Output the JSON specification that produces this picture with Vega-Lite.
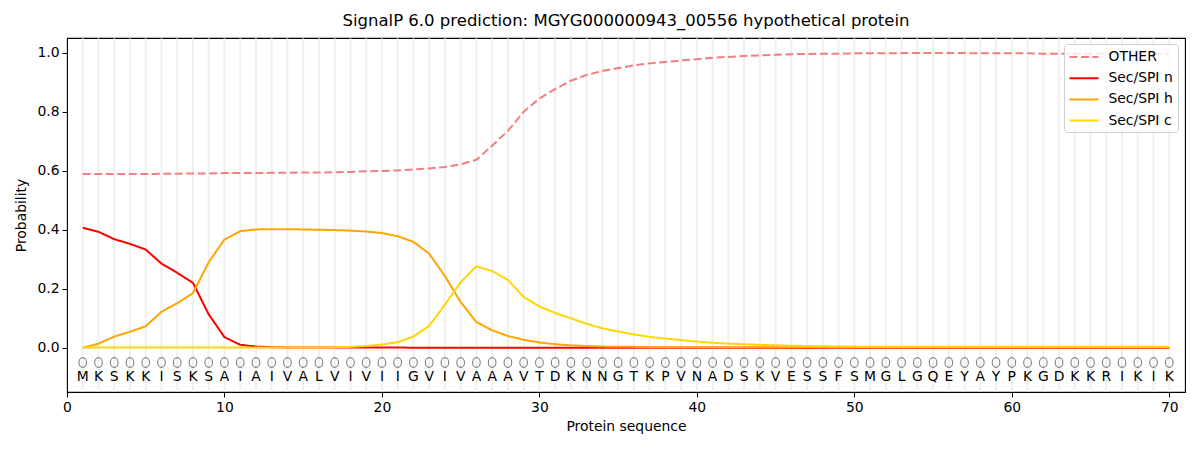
{
  "$schema": "https://vega.github.io/schema/vega-lite/v6.json",
  "width": 1118,
  "height": 354,
  "autosize": {"type": "none"},
  "padding": {"left": 67, "top": 38, "right": 15, "bottom": 58},
  "title": {"text": "SignalP 6.0 prediction: MGYG000000943_00556 hypothetical protein", "fontSize": 16.5, "fontWeight": "normal", "font": "DejaVu Sans", "color": "black", "offset": 8, "anchor": "middle"},
  "datasets": {
    "residues": [
      {"pos":1,"aa":"M","other":0.589,"n":0.407,"h":0.000,"c":0.001},
      {"pos":2,"aa":"K","other":0.589,"n":0.393,"h":0.014,"c":0.001},
      {"pos":3,"aa":"S","other":0.589,"n":0.368,"h":0.038,"c":0.001},
      {"pos":4,"aa":"K","other":0.589,"n":0.352,"h":0.054,"c":0.001},
      {"pos":5,"aa":"K","other":0.589,"n":0.333,"h":0.073,"c":0.001},
      {"pos":6,"aa":"I","other":0.590,"n":0.285,"h":0.122,"c":0.001},
      {"pos":7,"aa":"S","other":0.590,"n":0.254,"h":0.151,"c":0.001},
      {"pos":8,"aa":"K","other":0.591,"n":0.220,"h":0.185,"c":0.001},
      {"pos":9,"aa":"S","other":0.591,"n":0.113,"h":0.290,"c":0.001},
      {"pos":10,"aa":"A","other":0.592,"n":0.036,"h":0.367,"c":0.001},
      {"pos":11,"aa":"I","other":0.592,"n":0.010,"h":0.395,"c":0.001},
      {"pos":12,"aa":"A","other":0.592,"n":0.004,"h":0.401,"c":0.001},
      {"pos":13,"aa":"I","other":0.593,"n":0.002,"h":0.402,"c":0.001},
      {"pos":14,"aa":"V","other":0.593,"n":0.001,"h":0.402,"c":0.001},
      {"pos":15,"aa":"A","other":0.594,"n":0.001,"h":0.401,"c":0.001},
      {"pos":16,"aa":"L","other":0.594,"n":0.001,"h":0.400,"c":0.001},
      {"pos":17,"aa":"V","other":0.595,"n":0.001,"h":0.399,"c":0.002},
      {"pos":18,"aa":"I","other":0.596,"n":0.001,"h":0.397,"c":0.003},
      {"pos":19,"aa":"V","other":0.598,"n":0.001,"h":0.394,"c":0.006},
      {"pos":20,"aa":"I","other":0.599,"n":0.001,"h":0.389,"c":0.011},
      {"pos":21,"aa":"I","other":0.601,"n":0.001,"h":0.378,"c":0.019},
      {"pos":22,"aa":"G","other":0.604,"n":0.000,"h":0.359,"c":0.038},
      {"pos":23,"aa":"V","other":0.608,"n":0.000,"h":0.319,"c":0.074},
      {"pos":24,"aa":"I","other":0.613,"n":0.000,"h":0.243,"c":0.146},
      {"pos":25,"aa":"V","other":0.622,"n":0.000,"h":0.155,"c":0.222},
      {"pos":26,"aa":"A","other":0.637,"n":0.000,"h":0.087,"c":0.276},
      {"pos":27,"aa":"A","other":0.685,"n":0.000,"h":0.059,"c":0.260},
      {"pos":28,"aa":"A","other":0.735,"n":0.000,"h":0.040,"c":0.230},
      {"pos":29,"aa":"V","other":0.800,"n":0.000,"h":0.027,"c":0.172},
      {"pos":30,"aa":"T","other":0.845,"n":0.000,"h":0.018,"c":0.140},
      {"pos":31,"aa":"D","other":0.877,"n":0.000,"h":0.012,"c":0.118},
      {"pos":32,"aa":"K","other":0.905,"n":0.000,"h":0.008,"c":0.100},
      {"pos":33,"aa":"N","other":0.925,"n":0.000,"h":0.006,"c":0.081},
      {"pos":34,"aa":"N","other":0.938,"n":0.000,"h":0.004,"c":0.066},
      {"pos":35,"aa":"G","other":0.948,"n":0.000,"h":0.003,"c":0.055},
      {"pos":36,"aa":"T","other":0.957,"n":0.000,"h":0.003,"c":0.045},
      {"pos":37,"aa":"K","other":0.964,"n":0.000,"h":0.002,"c":0.037},
      {"pos":38,"aa":"P","other":0.969,"n":0.000,"h":0.002,"c":0.031},
      {"pos":39,"aa":"V","other":0.974,"n":0.000,"h":0.002,"c":0.026},
      {"pos":40,"aa":"N","other":0.978,"n":0.000,"h":0.002,"c":0.021},
      {"pos":41,"aa":"A","other":0.983,"n":0.000,"h":0.002,"c":0.017},
      {"pos":42,"aa":"D","other":0.986,"n":0.000,"h":0.002,"c":0.014},
      {"pos":43,"aa":"S","other":0.989,"n":0.000,"h":0.002,"c":0.012},
      {"pos":44,"aa":"K","other":0.991,"n":0.000,"h":0.002,"c":0.010},
      {"pos":45,"aa":"V","other":0.993,"n":0.000,"h":0.002,"c":0.008},
      {"pos":46,"aa":"E","other":0.995,"n":0.000,"h":0.002,"c":0.007},
      {"pos":47,"aa":"S","other":0.996,"n":0.000,"h":0.002,"c":0.006},
      {"pos":48,"aa":"S","other":0.997,"n":0.000,"h":0.002,"c":0.005},
      {"pos":49,"aa":"F","other":0.997,"n":0.000,"h":0.002,"c":0.004},
      {"pos":50,"aa":"S","other":0.998,"n":0.000,"h":0.002,"c":0.004},
      {"pos":51,"aa":"M","other":0.998,"n":0.000,"h":0.002,"c":0.003},
      {"pos":52,"aa":"G","other":0.998,"n":0.000,"h":0.002,"c":0.003},
      {"pos":53,"aa":"L","other":0.999,"n":0.000,"h":0.002,"c":0.003},
      {"pos":54,"aa":"G","other":0.999,"n":0.000,"h":0.002,"c":0.003},
      {"pos":55,"aa":"Q","other":0.999,"n":0.000,"h":0.002,"c":0.003},
      {"pos":56,"aa":"E","other":0.999,"n":0.000,"h":0.002,"c":0.003},
      {"pos":57,"aa":"Y","other":0.999,"n":0.000,"h":0.002,"c":0.003},
      {"pos":58,"aa":"A","other":0.998,"n":0.000,"h":0.002,"c":0.003},
      {"pos":59,"aa":"Y","other":0.998,"n":0.000,"h":0.002,"c":0.003},
      {"pos":60,"aa":"P","other":0.998,"n":0.000,"h":0.002,"c":0.003},
      {"pos":61,"aa":"K","other":0.998,"n":0.000,"h":0.002,"c":0.003},
      {"pos":62,"aa":"G","other":0.997,"n":0.000,"h":0.002,"c":0.003},
      {"pos":63,"aa":"D","other":0.997,"n":0.000,"h":0.002,"c":0.003},
      {"pos":64,"aa":"K","other":0.997,"n":0.000,"h":0.002,"c":0.003},
      {"pos":65,"aa":"K","other":0.997,"n":0.000,"h":0.002,"c":0.003},
      {"pos":66,"aa":"R","other":0.997,"n":0.000,"h":0.002,"c":0.003},
      {"pos":67,"aa":"I","other":0.997,"n":0.000,"h":0.002,"c":0.003},
      {"pos":68,"aa":"K","other":0.997,"n":0.000,"h":0.002,"c":0.003},
      {"pos":69,"aa":"I","other":0.997,"n":0.000,"h":0.002,"c":0.003},
      {"pos":70,"aa":"K","other":0.997,"n":0.000,"h":0.002,"c":0.003}
    ]
  },
  "data": {"name": "residues"},
  "encoding": {
    "x": {"field": "pos", "type": "quantitative", "scale": {"domain": [0, 71], "nice": false, "zero": false},
      "axis": {"title": "Protein sequence", "values": [0,10,20,30,40,50,60,70], "format": "d", "grid": false}}
  },
  "layer": [
    {
      "mark": {"type": "rule", "color": "#e6e6e6", "strokeWidth": 2, "opacity": 0.6},
      "encoding": {}
    },
    {
      "mark": {"type": "point", "shape": "M0,-1A0.78,1 0 1,1 0,1A0.78,1 0 1,1 0,-1Z", "filled": false, "stroke": "#808080", "strokeWidth": 1.1, "size": 96, "opacity": 1},
      "encoding": {"y": {"datum": -0.05, "type": "quantitative"}}
    },
    {
      "mark": {"type": "text", "fontSize": 13.9, "color": "black", "baseline": "middle", "align": "center", "font": "DejaVu Sans"},
      "encoding": {"y": {"datum": -0.1, "type": "quantitative"}, "text": {"field": "aa"}}
    },
    {
      "transform": [{"fold": ["other", "n", "h", "c"], "as": ["series", "prob"]}],
      "mark": {"type": "line", "strokeWidth": 2},
      "encoding": {
        "y": {"field": "prob", "type": "quantitative", "scale": {"domain": [-0.15, 1.05], "nice": false, "zero": false},
          "axis": {"title": "Probability", "values": [0,0.2,0.4,0.6,0.8,1.0], "format": ".1f", "grid": false}},
        "color": {"field": "series", "type": "nominal",
          "scale": {"domain": ["other", "n", "h", "c"], "range": ["#f08080", "#ff0000", "#ffa500", "#ffd700"]},
          "legend": {"title": null, "orient": "none", "legendX": 997, "legendY": 6,
            "labelExpr": "{'other':'OTHER','n':'Sec/SPI n','h':'Sec/SPI h','c':'Sec/SPI c'}[datum.label]"}},
        "strokeDash": {"field": "series", "type": "nominal",
          "scale": {"domain": ["other", "n", "h", "c"], "range": [[8, 3.5], [1, 0], [1, 0], [1, 0]]},
          "legend": {"title": null, "orient": "none", "legendX": 997, "legendY": 6,
            "labelExpr": "{'other':'OTHER','n':'Sec/SPI n','h':'Sec/SPI h','c':'Sec/SPI c'}[datum.label]"}}
      }
    }
  ],
  "config": {
    "font": "DejaVu Sans",
    "view": {"stroke": "black", "strokeWidth": 1.1},
    "axis": {"domain": false, "ticks": true, "tickColor": "black", "tickSize": 5, "tickWidth": 1,
      "labelFontSize": 13.9, "labelColor": "black", "labelFont": "DejaVu Sans", "labelPadding": 3,
      "titleFontSize": 13.9, "titleFontWeight": "normal", "titleColor": "black", "titleFont": "DejaVu Sans"},
    "axisY": {"titlePadding": 8},
    "axisX": {"titlePadding": 6, "labelFlush": false},
    "legend": {"symbolType": "M-1,0H2.87", "symbolSize": 225, "symbolStrokeWidth": 2, "labelFontSize": 13.9,
      "labelColor": "black", "labelFont": "DejaVu Sans", "fillColor": "rgba(255,255,255,0.8)", "strokeColor": "#d0d0d0",
      "cornerRadius": 3, "padding": 4.5, "rowPadding": 5.2, "labelOffset": 23}
  }
}
